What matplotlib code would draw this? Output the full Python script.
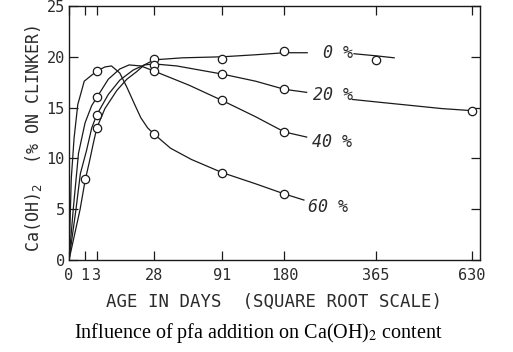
import numpy as np
import matplotlib
matplotlib.use("Agg")
import matplotlib.pyplot as plt

# measured points (days, Ca(OH)2 % on clinker)
days_0 = [1, 3, 28, 91, 180, 365]
vals_0 = [8.0, 13.0, 19.8, 19.8, 20.6, 19.7]
days_20 = [3, 28, 91, 180, 630]
vals_20 = [14.3, 19.2, 18.3, 16.8, 14.7]
days_40 = [3, 28, 91, 180]
vals_40 = [16.0, 18.6, 15.7, 12.6]
days_60 = [3, 28, 91, 180]
vals_60 = [18.6, 12.4, 8.6, 6.5]

# hand-drawn curves
curve_0a_d = [0, 0.48, 1, 1.66, 2.3, 3, 5, 8.9, 13, 17.5, 22, 28, 50, 91, 135, 180, 220]
curve_0a_v = [0, 5.0, 7.8, 9.8, 11.5, 13.0, 14.9, 16.7, 17.8, 18.5, 19.2, 19.7, 19.9, 20.0, 20.2, 20.4, 20.4]
curve_0b_d = [315, 365, 410]
curve_0b_v = [20.3, 20.1, 19.9]
curve_20a_d = [0, 0.19, 0.5, 1.2, 2, 3, 6, 10, 16, 22, 28, 45, 91, 135, 180, 219]
curve_20a_v = [0, 5.0, 8.5, 10.8, 13.0, 14.3, 16.3, 17.7, 18.7, 19.2, 19.3, 19.1, 18.3, 17.6, 16.8, 16.5]
curve_20b_d = [312, 380, 457, 540, 630]
curve_20b_v = [15.8, 15.5, 15.2, 14.9, 14.7]
curve_40_d = [0, 0.07, 0.35, 1, 2, 3, 6, 10, 14, 20, 28, 56, 91, 135, 180, 219]
curve_40_v = [0, 5.0, 10.5, 13.5, 15.2, 16.0, 17.8, 18.8, 19.2, 19.1, 18.6, 17.2, 15.7, 14.1, 12.6, 12.1]
curve_60_d = [0, 0.02, 0.1, 0.3, 0.9, 3, 5, 7, 10, 13, 16.5, 20, 24, 28, 40, 58, 91, 135, 180, 214]
curve_60_v = [0, 8.0, 12.0, 15.3, 17.6, 18.6, 19.0, 19.1, 18.4, 17.0, 15.4, 14.0, 13.0, 12.4, 11.0, 9.9, 8.6, 7.5, 6.5, 5.9]

xticks = [0, 1, 3, 28, 91, 180, 365, 630]
yticks = [0, 5, 10, 15, 20, 25]
series_labels = ["0 %", "20 %", "40 %", "60 %"]

mono = "DejaVu Sans Mono"

fig = plt.figure(figsize=(5.13, 3.52), dpi=100)
ax = fig.add_axes([69 / 513, 1 - 260 / 352, 411 / 513, 254 / 352])

ax.set_xscale("function", functions=(lambda x: np.sqrt(np.clip(x, 0, None)),
                                     lambda x: np.square(x)))

lc = "#1a1a1a"
tc = "#2b2b2b"
for d, v in [(curve_0a_d, curve_0a_v), (curve_0b_d, curve_0b_v),
             (curve_20a_d, curve_20a_v), (curve_20b_d, curve_20b_v),
             (curve_40_d, curve_40_v), (curve_60_d, curve_60_v)]:
    ax.plot(d, v, color=lc, lw=0.9)

for d, v in [(days_0, vals_0), (days_20, vals_20), (days_40, vals_40), (days_60, vals_60)]:
    ax.plot(d, v, "o", ms=6, mfc="white", mec=lc, mew=0.9)

ax.set_xlim(0, 655)
ax.set_ylim(0, 25)
ax.set_xticks(xticks)
ax.set_xticklabels([str(t) for t in xticks])
ax.set_yticks(yticks)
ax.tick_params(direction="in", length=6.5, width=0.9, top=True, right=True,
               labelsize=11, color=lc, labelcolor=tc)
ax.tick_params(axis="x", pad=6)
ax.tick_params(axis="y", pad=3)
for lab in ax.get_xticklabels() + ax.get_yticklabels():
    lab.set_family(mono)
for s in ax.spines.values():
    s.set_linewidth(1.0)
    s.set_color(lc)

ax.set_xlabel("AGE IN DAYS  (SQUARE ROOT SCALE)", fontsize=12.5, family=mono,
              color=tc, labelpad=7)
ax.set_ylabel("Ca(OH)$_2$  (% ON CLINKER)", fontsize=12, family=mono, color=tc)
ax.yaxis.set_label_coords(-0.06, 0.48)

label_pos = [(0.654, 0.815), (0.642, 0.650), (0.640, 0.465), (0.630, 0.209)]
for txt, (px, py) in zip(series_labels, label_pos):
    ax.text(px, py, txt, transform=ax.transAxes, ha="center", va="center",
            fontsize=12, family=mono, style="italic", color=tc)

fig.text(0.503, 0.054, "Influence of pfa addition on Ca(OH)$_2$ content",
         ha="center", va="center", fontsize=14.5, family="Liberation Serif",
         math_fontfamily="stix")

fig.savefig("out.png", dpi=100)
